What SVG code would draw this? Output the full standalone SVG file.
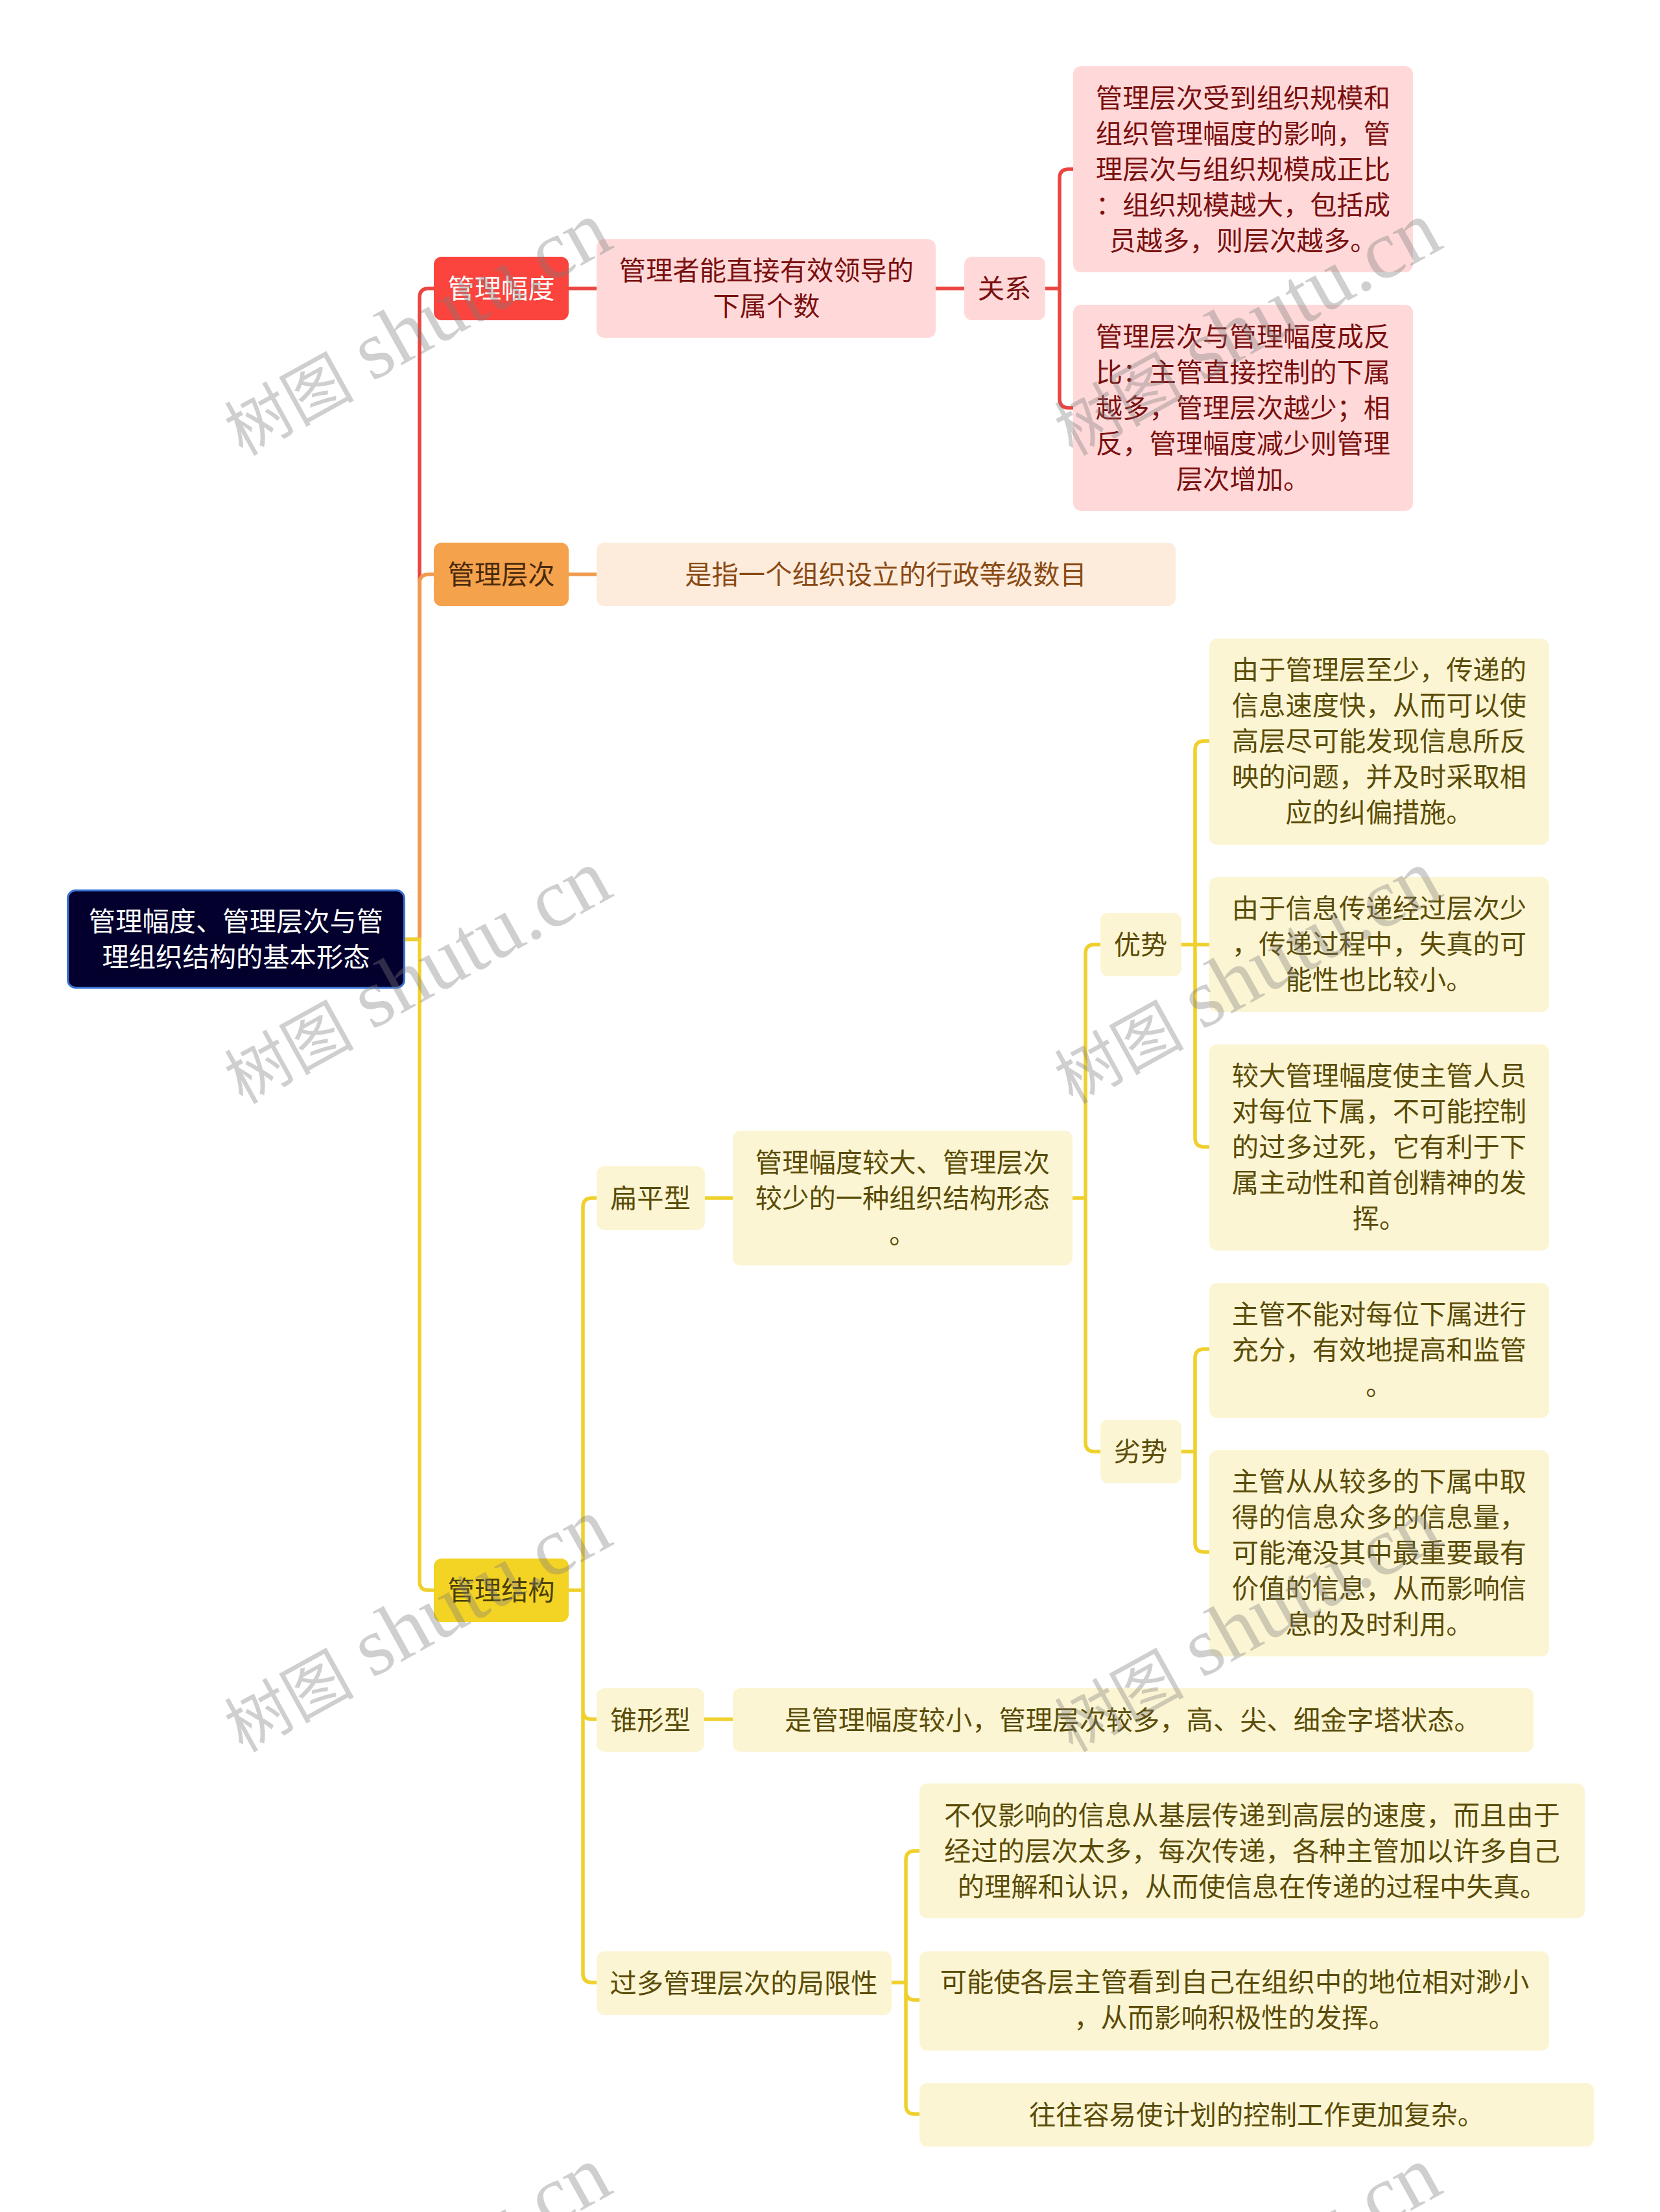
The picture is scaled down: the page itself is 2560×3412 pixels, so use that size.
<svg xmlns="http://www.w3.org/2000/svg" width="2560" height="3412" viewBox="0 0 2560 3412">
<style>
text{font-family:"Noto Sans CJK SC","Noto Sans",sans-serif;font-size:41.3px;text-anchor:middle}
g[id] text{transform:translateY(-1px)}
.c{fill:none;stroke-width:5.5;stroke-linecap:butt}
.r{stroke:#EA4540}.o{stroke:#F09B4E}.y{stroke:#EFD02C}
.pk rect{fill:#FFD9D9}.pk text{fill:#7A1010}
.pe rect{fill:#FDECDC}.pe text{fill:#8A4A14}
.cr rect{fill:#FCF5D3}.cr text{fill:#5A4C08}
.wm text{font-family:"Liberation Serif","Noto Sans CJK SC",serif;font-size:100px;text-anchor:start;fill:#7d7d7d;opacity:.36}
.wm .l{font-size:128px}
</style>
<rect width="2560" height="3412" fill="#fff"/>
<g id="connectors">
<path class="c r" d="M625 1449H647V459Q647 445 661 445H669M877 445H920M1443 445H1487M1612 445H1634M1655 261H1648Q1634 261 1634 275V615Q1634 629 1648 629H1655"/>
<path class="c o" d="M625 1449H647V900Q647 886 661 886H669M877 886H920"/>
<path class="c y" d="M625 1449H647V2439Q647 2453 661 2453H669M877 2453H899M920 1848H913Q899 1848 899 1862V3044Q899 3058 913 3058H920M899 2638Q899 2652 913 2652H920M1087 1848H1130M1654 1848H1674M1697 1457H1688Q1674 1457 1674 1471V2225Q1674 2239 1688 2239H1697M1822 1457H1865M1865 1143H1857Q1843 1143 1843 1157V1755Q1843 1769 1857 1769H1865M1822 2239H1843M1865 2081H1857Q1843 2081 1843 2095V2380Q1843 2394 1857 2394H1865M1086 2652H1130M1375 3058H1397M1418 2855H1411Q1397 2855 1397 2869V3247Q1397 3261 1411 3261H1418M1397 3071Q1397 3085 1411 3085H1418"/>
</g>
<g id="root"><rect x="104.500" y="1373.500" width="519" height="150" rx="12" fill="#03002E" stroke="#3A75D6" stroke-width="3"/><text x="364" y="1437" fill="#fff">管理幅度、管理层次与管</text><text x="364" y="1492" fill="#fff">理组织结构的基本形态</text></g>
<g id="n-fudu"><rect x="669" y="396" width="208" height="98" rx="12" fill="#FA443D"/><text x="773" y="461" fill="#fff">管理幅度</text></g>
<g id="n-fudu-def" class="pk"><rect x="920" y="369" width="523" height="152" rx="12"/><text x="1182" y="433">管理者能直接有效领导的</text><text x="1182" y="488">下属个数</text></g>
<g id="n-guanxi" class="pk"><rect x="1487" y="396" width="125" height="98" rx="12"/><text x="1549" y="461">关系</text></g>
<g id="n-leaf1" class="pk"><rect x="1655" y="102" width="524" height="318" rx="12"/><text x="1917" y="167">管理层次受到组织规模和</text><text x="1917" y="222">组织管理幅度的影响，管</text><text x="1917" y="277">理层次与组织规模成正比</text><text x="1917" y="332">：组织规模越大，包括成</text><text x="1917" y="387">员越多，则层次越多。</text></g>
<g id="n-leaf2" class="pk"><rect x="1655" y="470" width="524" height="318" rx="12"/><text x="1917" y="535">管理层次与管理幅度成反</text><text x="1917" y="590">比：主管直接控制的下属</text><text x="1917" y="645">越多，管理层次越少；相</text><text x="1917" y="700">反，管理幅度减少则管理</text><text x="1917" y="755">层次增加。</text></g>
<g id="n-cengci"><rect x="669" y="837" width="208" height="98" rx="12" fill="#F5A24C"/><text x="773" y="902" fill="#4A2A0C">管理层次</text></g>
<g id="n-cengci-def" class="pe"><rect x="920" y="837" width="893" height="98" rx="12"/><text x="1366" y="902">是指一个组织设立的行政等级数目</text></g>
<g id="n-jiegou"><rect x="669" y="2404" width="208" height="98" rx="12" fill="#F3D324"/><text x="773" y="2469" fill="#4A3F0A">管理结构</text></g>
<g id="n-bian" class="cr"><rect x="920" y="1799" width="167" height="98" rx="12"/><text x="1003" y="1864">扁平型</text></g>
<g id="n-bian-def" class="cr"><rect x="1130" y="1744" width="524" height="208" rx="12"/><text x="1392" y="1809">管理幅度较大、管理层次</text><text x="1392" y="1864">较少的一种组织结构形态</text><text x="1392" y="1919">。</text></g>
<g id="n-you" class="cr"><rect x="1697" y="1408" width="125" height="98" rx="12"/><text x="1759" y="1473">优势</text></g>
<g id="n-a" class="cr"><rect x="1865" y="985" width="524" height="318" rx="12"/><text x="2127" y="1049">由于管理层至少，传递的</text><text x="2127" y="1104">信息速度快，从而可以使</text><text x="2127" y="1159">高层尽可能发现信息所反</text><text x="2127" y="1214">映的问题，并及时采取相</text><text x="2127" y="1269">应的纠偏措施。</text></g>
<g id="n-b" class="cr"><rect x="1865" y="1353" width="524" height="208" rx="12"/><text x="2127" y="1417">由于信息传递经过层次少</text><text x="2127" y="1472">，传递过程中，失真的可</text><text x="2127" y="1527">能性也比较小。</text></g>
<g id="n-c" class="cr"><rect x="1865" y="1611" width="524" height="318" rx="12"/><text x="2127" y="1675">较大管理幅度使主管人员</text><text x="2127" y="1730">对每位下属，不可能控制</text><text x="2127" y="1785">的过多过死，它有利于下</text><text x="2127" y="1840">属主动性和首创精神的发</text><text x="2127" y="1895">挥。</text></g>
<g id="n-lie" class="cr"><rect x="1697" y="2190" width="125" height="98" rx="12"/><text x="1759" y="2255">劣势</text></g>
<g id="n-d" class="cr"><rect x="1865" y="1979" width="524" height="208" rx="12"/><text x="2127" y="2043">主管不能对每位下属进行</text><text x="2127" y="2098">充分，有效地提高和监管</text><text x="2127" y="2153">。</text></g>
<g id="n-e" class="cr"><rect x="1865" y="2237" width="524" height="318" rx="12"/><text x="2127" y="2301">主管从从较多的下属中取</text><text x="2127" y="2356">得的信息众多的信息量，</text><text x="2127" y="2411">可能淹没其中最重要最有</text><text x="2127" y="2466">价值的信息，从而影响信</text><text x="2127" y="2521">息的及时利用。</text></g>
<g id="n-zhui" class="cr"><rect x="920" y="2604" width="166" height="98" rx="12"/><text x="1003" y="2669">锥形型</text></g>
<g id="n-zhui-def" class="cr"><rect x="1130" y="2604" width="1235" height="98" rx="12"/><text x="1747" y="2669">是管理幅度较小，管理层次较多，高、尖、细金字塔状态。</text></g>
<g id="n-guoduo" class="cr"><rect x="920" y="3010" width="455" height="98" rx="12"/><text x="1147" y="3075">过多管理层次的局限性</text></g>
<g id="n-f" class="cr"><rect x="1418" y="2751" width="1026" height="208" rx="12"/><text x="1931" y="2816">不仅影响的信息从基层传递到高层的速度，而且由于</text><text x="1931" y="2871">经过的层次太多，每次传递，各种主管加以许多自己</text><text x="1931" y="2926">的理解和认识，从而使信息在传递的过程中失真。</text></g>
<g id="n-g" class="cr"><rect x="1418" y="3010" width="971" height="153" rx="12"/><text x="1904" y="3073">可能使各层主管看到自己在组织中的地位相对渺小</text><text x="1904" y="3128">，从而影响积极性的发挥。</text></g>
<g id="n-h" class="cr"><rect x="1418" y="3213" width="1040" height="98" rx="12"/><text x="1938" y="3278">往往容易使计划的控制工作更加复杂。</text></g>
<g class="wm">
<text transform="translate(374 704) rotate(-29)">树图 <tspan class="l" dx="5" dy="-4">shutu.cn</tspan></text>
<text transform="translate(1654 704) rotate(-29)">树图 <tspan class="l" dx="5" dy="-4">shutu.cn</tspan></text>
<text transform="translate(374 1704) rotate(-29)">树图 <tspan class="l" dx="5" dy="-4">shutu.cn</tspan></text>
<text transform="translate(1654 1704) rotate(-29)">树图 <tspan class="l" dx="5" dy="-4">shutu.cn</tspan></text>
<text transform="translate(374 2704) rotate(-29)">树图 <tspan class="l" dx="5" dy="-4">shutu.cn</tspan></text>
<text transform="translate(1654 2704) rotate(-29)">树图 <tspan class="l" dx="5" dy="-4">shutu.cn</tspan></text>
<text transform="translate(374 3704) rotate(-29)">树图 <tspan class="l" dx="5" dy="-4">shutu.cn</tspan></text>
<text transform="translate(1654 3704) rotate(-29)">树图 <tspan class="l" dx="5" dy="-4">shutu.cn</tspan></text>
</g>
</svg>
